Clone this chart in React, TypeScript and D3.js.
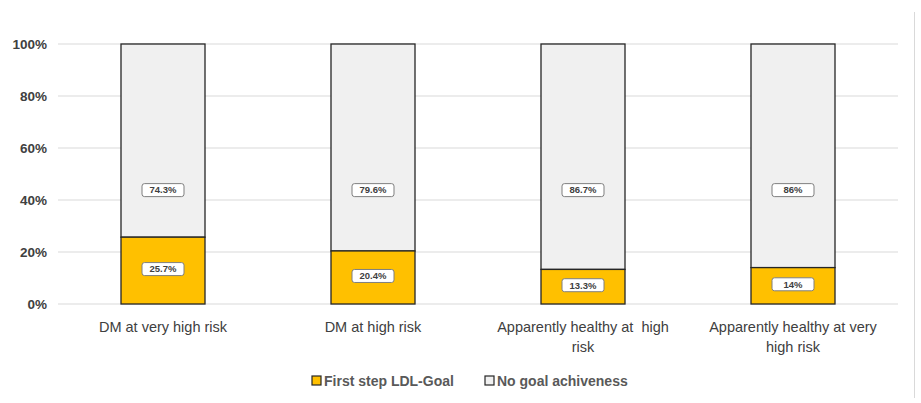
import React from "react";
import * as d3 from "d3";

const categories: string[][] = [
  ["DM at very high risk"],
  ["DM at high risk"],
  ["Apparently healthy at  high", "risk"],
  ["Apparently healthy at very", "high risk"],
];
const goalValues = [25.7, 20.4, 13.3, 14];
const noGoalValues = [74.3, 79.6, 86.7, 86];
const noGoalLabels = ["74.3%", "79.6%", "86.7%", "86%"];
const goalLabels = ["25.7%", "20.4%", "13.3%", "14%"];
const yTicks = [0, 20, 40, 60, 80, 100];
const seriesNames = ["First step LDL-Goal", "No goal achiveness"];

const W = 921;
const H = 403;
const left = 58;
const right = 898;
const top = 44;
const bottom = 304;
const FONT = "'Liberation Sans Narrow', 'Liberation Sans', Arial, sans-serif";
const TXT = "#404040";
const ORANGE = "#FFC000";
const GREY = "#F0F0F0";

export default function App() {
  const x = d3
    .scaleBand<number>()
    .domain(d3.range(categories.length))
    .range([left, right])
    .paddingInner(0.6)
    .paddingOuter(0.3);
  const y = d3.scaleLinear().domain([0, 100]).range([bottom, top]);
  const bw = x.bandwidth();

  const labelBox = (cx: number, cy: number, text: string, key: string) => (
    <g key={key}>
      <rect
        x={cx - 21}
        y={cy - 6.5}
        width={42}
        height={13}
        rx={2.5}
        fill="#fff"
        stroke="#7f7f7f"
        strokeWidth={1}
      />
      <text
        x={cx}
        y={cy}
        dy="0.35em"
        textAnchor="middle"
        fontSize={9.5}
        fontWeight="bold"
        fill={TXT}
        fontFamily={FONT}
      >
        {text}
      </text>
    </g>
  );

  return (
    <svg
      width={W}
      height={H}
      style={{ position: "absolute", left: 0, top: 0, background: "#fff" }}
    >
      <line x1={914.5} x2={914.5} y1={12} y2={398} stroke="#d9d9d9" strokeWidth={1} />
      {yTicks.map((t) => (
        <g key={t}>
          <line
            x1={left}
            x2={right}
            y1={y(t)}
            y2={y(t)}
            stroke="#d9d9d9"
            strokeWidth={1.2}
          />
          <text
            x={47}
            y={y(t)}
            dy="0.35em"
            textAnchor="end"
            fontSize={13.5}
            fontWeight="bold"
            fill={TXT}
            fontFamily={FONT}
          >
            {t}%
          </text>
        </g>
      ))}
      {categories.map((c, i) => {
        const x0 = x(i)!;
        const cx = x0 + bw / 2;
        const g = goalValues[i];
        const n = noGoalValues[i];
        return (
          <g key={i}>
            <rect
              x={x0}
              y={y(g + n)}
              width={bw}
              height={y(g) - y(g + n)}
              fill={GREY}
              stroke="#262626"
              strokeWidth={1.3}
            />
            <rect
              x={x0}
              y={y(g)}
              width={bw}
              height={y(0) - y(g)}
              fill={ORANGE}
              stroke="#262626"
              strokeWidth={1.3}
            />
            {labelBox(cx, y(43.8), noGoalLabels[i], "n" + i)}
            {labelBox(cx, (y(g) + y(0)) / 2 - 1.5, goalLabels[i], "g" + i)}
            {c.map((line, j) => (
              <text
                key={j}
                x={cx}
                y={327 + j * 20}
                dy="0.35em"
                textAnchor="middle"
                fontSize={14.5}
                fill={TXT}
                fontFamily={FONT}
                style={{ whiteSpace: "pre" }}
              >
                {line}
              </text>
            ))}
          </g>
        );
      })}
      {seriesNames.map((s, i) => {
        const lx = i === 0 ? 312 : 485;
        return (
          <g key={s}>
            <rect
              x={lx}
              y={376}
              width={9}
              height={9}
              fill={i === 0 ? ORANGE : GREY}
              stroke="#262626"
              strokeWidth={1.2}
            />
            <text
              x={lx + 12}
              y={381}
              dy="0.35em"
              fontSize={14}
              fontWeight="bold"
              fill="#595959"
              fontFamily={FONT}
            >
              {s}
            </text>
          </g>
        );
      })}
    </svg>
  );
}
